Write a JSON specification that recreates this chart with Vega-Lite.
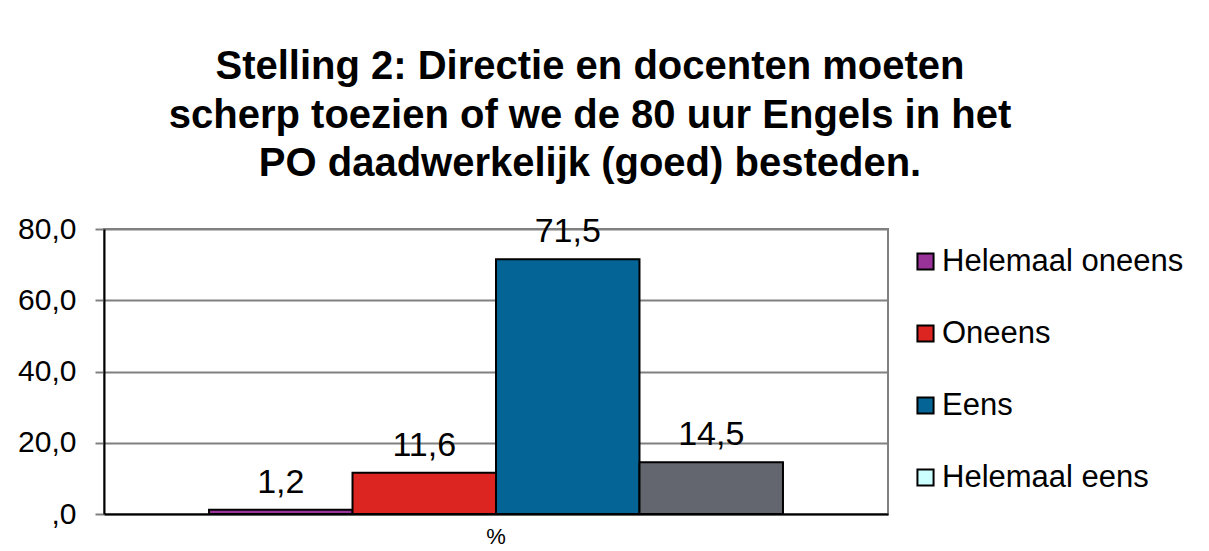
{
  "$schema": "https://vega.github.io/schema/vega-lite/v6.json",
  "width": 784,
  "height": 285,
  "autosize": {"type": "none"},
  "padding": {"left": 104, "top": 229, "right": 321, "bottom": 37},
  "background": "white",
  "config": {
    "font": "Liberation Sans",
    "locale": {"number": {"decimal": ",", "thousands": ".", "grouping": [3], "currency": ["€", ""]}},
    "view": {"stroke": "#808080", "strokeWidth": 2}
  },
  "title": {
    "text": ["Stelling 2: Directie en docenten moeten", "scherp toezien of we de 80 uur Engels in het", "PO daadwerkelijk (goed) besteden."],
    "font": "Liberation Sans",
    "fontSize": 40,
    "fontWeight": "bold",
    "color": "black",
    "lineHeight": 48.5,
    "anchor": "middle",
    "dx": 94,
    "offset": 30
  },
  "data": {
    "values": [
      {"cat": "%", "antwoord": "Helemaal oneens", "waarde": 1.2},
      {"cat": "%", "antwoord": "Oneens", "waarde": 11.6},
      {"cat": "%", "antwoord": "Eens", "waarde": 71.5},
      {"cat": "%", "antwoord": "Helemaal eens", "waarde": 14.5}
    ]
  },
  "encoding": {
    "x": {
      "field": "cat",
      "type": "nominal",
      "scale": {"paddingInner": 0, "paddingOuter": 0.183},
      "axis": {
        "title": null,
        "labelAngle": 0,
        "labelFontSize": 22,
        "labelColor": "black",
        "labelPadding": 12,
        "domainColor": "black",
        "domainWidth": 2,
        "ticks": false
      }
    },
    "xOffset": {
      "field": "antwoord",
      "type": "nominal",
      "sort": ["Helemaal oneens", "Oneens", "Eens", "Helemaal eens"],
      "scale": {"paddingInner": 0, "paddingOuter": 0}
    },
    "y": {
      "field": "waarde",
      "type": "quantitative",
      "scale": {"domain": [0, 80], "nice": false},
      "axis": {
        "title": null,
        "values": [0, 20, 40, 60, 80],
        "format": ".1f",
        "labelExpr": "datum.value === 0 ? ',0' : datum.label",
        "labelFontSize": 30,
        "labelColor": "black",
        "labelPadding": 19,
        "tickSize": 9,
        "tickColor": "#808080",
        "tickWidth": 2,
        "domainColor": "black",
        "domainWidth": 2,
        "grid": true,
        "gridColor": "#808080",
        "gridWidth": 2
      }
    }
  },
  "layer": [
    {
      "mark": {"type": "bar", "stroke": "black", "strokeWidth": 2},
      "encoding": {
        "color": {
          "field": "antwoord",
          "type": "nominal",
          "sort": ["Helemaal oneens", "Oneens", "Eens", "Helemaal eens"],
          "scale": {
            "range": ["#993399", "#DC2420", "#036495", "#63666E"]
          },
          "legend": null
        }
      }
    },
    {
      "mark": {"type": "square", "size": 0},
      "encoding": {
        "fill": {
          "field": "antwoord",
          "type": "nominal",
          "scale": {
            "domain": ["Helemaal oneens", "Oneens", "Eens", "Helemaal eens"],
            "range": ["#993399", "#DC2420", "#036495", "#CCFFFF"]
          },
          "legend": {
            "title": null,
            "orient": "none",
            "legendX": 806,
            "legendY": 17,
            "labelFontSize": 31,
            "labelLimit": 400,
            "labelColor": "black",
            "labelOffset": 1,
            "symbolType": "square",
            "symbolSize": 260,
            "symbolStrokeColor": "black",
            "symbolStrokeWidth": 2,
            "symbolOpacity": 1,
            "rowPadding": 40
          }
        }
      }
    },
    {
      "mark": {"type": "text", "baseline": "alphabetic", "dy": -17, "fontSize": 34, "color": "black"},
      "encoding": {
        "text": {"field": "waarde", "type": "quantitative", "format": ".1f"}
      }
    }
  ]
}
